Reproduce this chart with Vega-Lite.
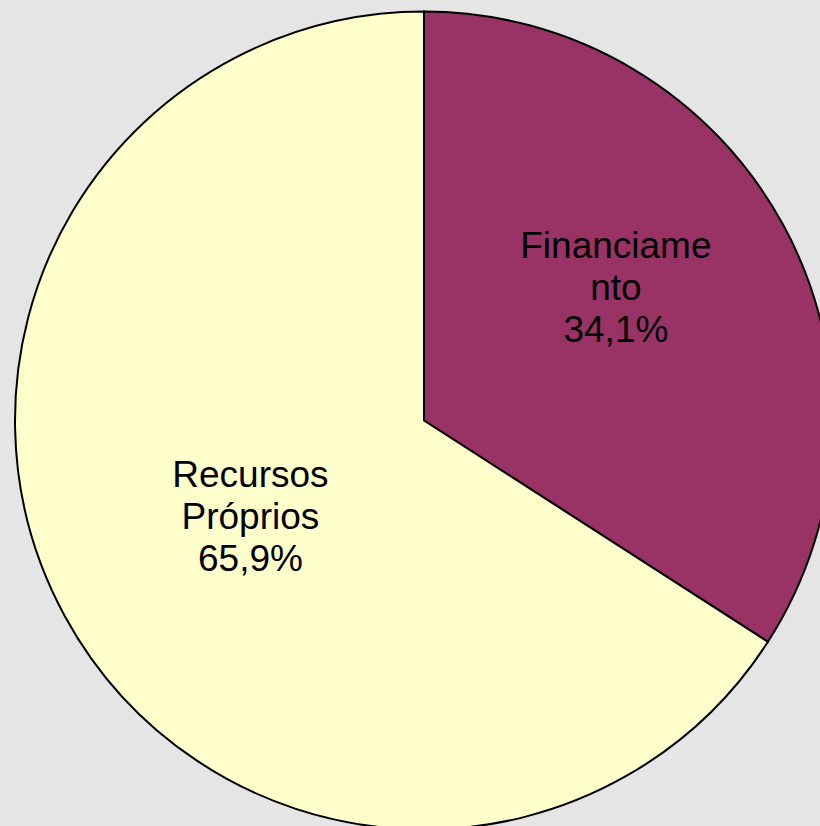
{
  "$schema": "https://vega.github.io/schema/vega-lite/v6.json",
  "width": 792,
  "height": 811,
  "autosize": {"type": "none"},
  "padding": {"left": 28, "top": 15, "right": 0, "bottom": 0},
  "background": "#e5e5e5",
  "view": {"stroke": null},
  "config": {"font": "Liberation Sans"},
  "data": {
    "values": [
      {"cat": "Financiamento", "value": 34.1, "label": "Financiame\nnto\n34,1%"},
      {"cat": "Recursos Próprios", "value": 65.9, "label": "Recursos\nPróprios\n65,9%"}
    ]
  },
  "encoding": {
    "theta": {"field": "value", "type": "quantitative", "stack": true},
    "order": {"field": "cat", "type": "nominal", "sort": "ascending"}
  },
  "layer": [
    {
      "mark": {"type": "arc", "outerRadius": 409, "stroke": "#000000", "strokeWidth": 2},
      "encoding": {
        "color": {
          "field": "cat",
          "type": "nominal",
          "scale": {"domain": ["Financiamento", "Recursos Próprios"], "range": ["#993366", "#ffffcc"]},
          "legend": null
        }
      }
    },
    {
      "mark": {"type": "text", "radius": 230, "dx": -10, "dy": -63, "fontSize": 37, "lineBreak": "\n", "lineHeight": 42, "color": "#000000", "align": "center", "baseline": "middle"},
      "encoding": {
        "text": {"condition": {"test": "datum.cat === 'Financiamento'", "field": "label"}, "value": ""}
      }
    },
    {
      "mark": {"type": "text", "radius": 200, "dx": 2, "dy": -40, "fontSize": 37, "lineBreak": "\n", "lineHeight": 42, "color": "#000000", "align": "center", "baseline": "middle"},
      "encoding": {
        "text": {"condition": {"test": "datum.cat === 'Recursos Próprios'", "field": "label"}, "value": ""}
      }
    }
  ]
}
